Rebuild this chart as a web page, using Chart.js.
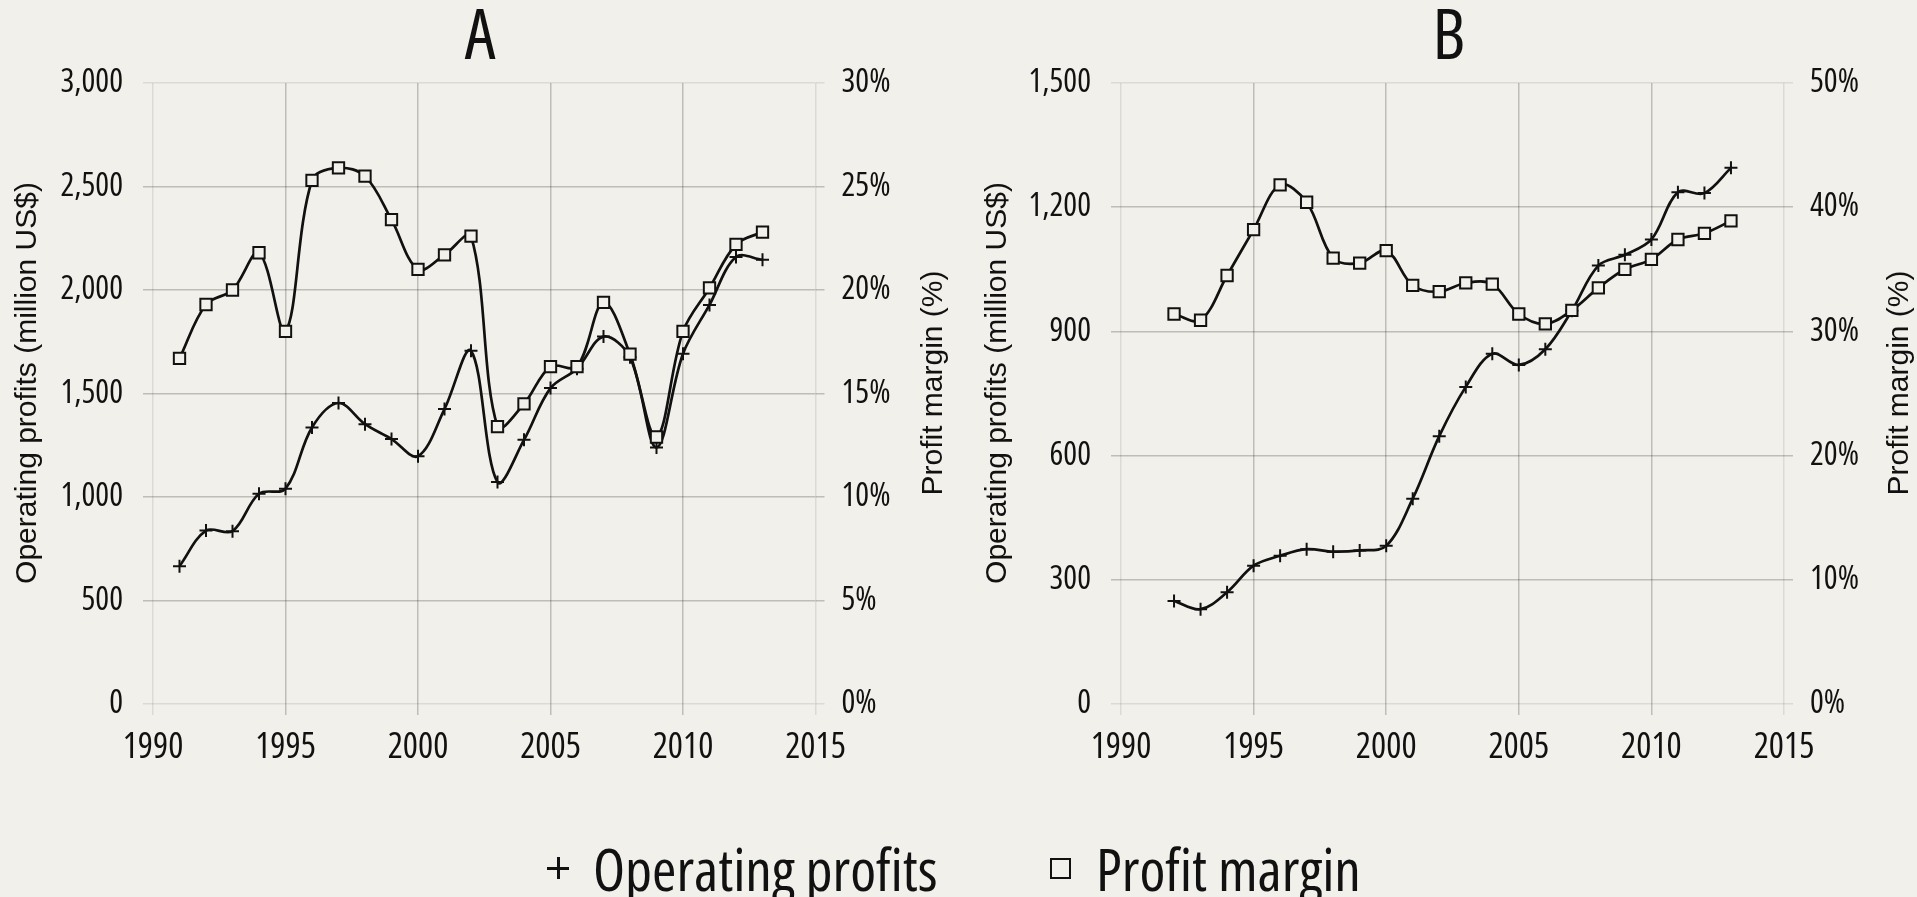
<!DOCTYPE html>
<html>
<head>
<meta charset="utf-8">
<script src="https://cdn.jsdelivr.net/npm/chart.js@4.4.1/dist/chart.umd.min.js"></script>
<style>
  html, body { margin: 0; padding: 0; background: #f2f0ea; }
  body { width: 1917px; height: 897px; position: relative; overflow: hidden; }
  canvas { position: absolute; top: 0; }
  #chartA { left: 0; }
  #chartB { left: 958px; }
  .legend { position: absolute; top: 840px; height: 56px; display: flex; align-items: center;
            color: #111; line-height: 56px; white-space: nowrap; }
  .plus { position: relative; width: 22px; height: 22px; margin-right: 24px; flex: none; }
  .plus::before, .plus::after { content: ""; position: absolute; background: #111; }
  .plus::before { left: 0; top: 9.5px; width: 22px; height: 3px; }
  .plus::after { left: 9.5px; top: 0; width: 3px; height: 22px; }
  .box { width: 17px; height: 17px; border: 2.5px solid #111; margin-right: 25px; flex: none; }
</style>
</head>
<body>
<canvas id="chartA" width="958" height="800"></canvas>
<canvas id="chartB" width="959" height="800"></canvas>
<div class="legend" style="left:547px"><span class="plus"></span><span class="lt">Operating profits</span></div>
<div class="legend" style="left:1050px"><span class="box"></span><span class="lt">Profit margin</span></div>
<script>
// ---- data ----
const yearsA = [1991, 1992, 1993, 1994, 1995, 1996, 1997, 1998, 1999, 2000, 2001, 2002,
                2003, 2004, 2005, 2006, 2007, 2008, 2009, 2010, 2011, 2012, 2013];
const profitsA = [666, 838, 835, 1016, 1040, 1336, 1454, 1352, 1280, 1197, 1425, 1706,
                  1072, 1276, 1526, 1620, 1775, 1675, 1239, 1692, 1928, 2159, 2146];
const marginA = [16.7, 19.3, 20.0, 21.8, 18.0, 25.3, 25.9, 25.5, 23.4, 21.0, 21.7, 22.6,
                 13.4, 14.5, 16.3, 16.3, 19.4, 16.9, 12.9, 18.0, 20.1, 22.2, 22.8];

const yearsB = [1992, 1993, 1994, 1995, 1996, 1997, 1998, 1999, 2000, 2001, 2002,
                2003, 2004, 2005, 2006, 2007, 2008, 2009, 2010, 2011, 2012, 2013];
const profitsB = [249, 229, 270, 334, 358, 374, 368, 371, 382, 496, 647,
                  766, 846, 819, 857, 950, 1059, 1085, 1122, 1236, 1234, 1295];
const marginB = [31.4, 30.9, 34.5, 38.2, 41.8, 40.4, 35.9, 35.5, 36.5, 33.7, 33.2,
                 33.9, 33.8, 31.4, 30.6, 31.7, 33.5, 35.0, 35.8, 37.4, 37.9, 38.9];

const xTicks = [1990, 1995, 2000, 2005, 2010, 2015];
const leftTitle = 'Operating profits (million US$)';
const rightTitle = 'Profit margin (%)';

const BG = '#f2f0ea';
const INK = '#111';
const SANS = '"Liberation Sans", Arial, sans-serif';

// the original uses a narrow grotesque; find the closest condensed face installed
function pickNarrow() {
    const ctx = document.createElement('canvas').getContext('2d');
    const sample = 'Operating profits 1990 3,000 Profit margin';
    const w = f => { ctx.font = f; return ctx.measureText(sample).width; };
    const base = w('100px "Liberation Sans"');
    const mono = w('100px monospace');
    const cands = [
        ['"Liberation Sans Narrow"', ''], ['"Arial Narrow"', ''],
        ['"DejaVu Sans Condensed"', ''], ['"Roboto Condensed"', ''],
        ['"Noto Sans"', 'condensed'], ['"Open Sans"', 'condensed'],
        ['"Noto Sans"', 'semi-condensed'], ['"Open Sans"', 'semi-condensed']
    ];
    let best = { family: SANS, weight: 'normal', r: 1 };
    for (const [fam, st] of cands) {
        if (w('100px ' + fam + ', monospace') === mono) continue;
        const plain = w('100px ' + fam);
        const cur = st ? w(st + ' 100px ' + fam) : plain;
        if (st && cur > plain * 0.97) continue;
        const r = cur / base;
        if (Math.abs(r - 0.82) < Math.abs(best.r - 0.82)) best = { family: fam, weight: st || 'normal', r };
    }
    best.k = 0.82 / best.r;
    return best;
}
const NARROW = pickNarrow();
const nf = size => ({ family: NARROW.family, weight: NARROW.weight, size: Math.round(size * NARROW.k * 10) / 10 });

document.querySelectorAll('.lt').forEach(el => {
    el.style.fontFamily = NARROW.family;
    el.style.fontStretch = NARROW.weight === 'normal' ? 'normal' : NARROW.weight;
    el.style.fontSize = (56 * NARROW.k).toFixed(1) + 'px';
});

const gridColor = c => (c.index === 0 || c.index === c.scale.ticks.length - 1)
    ? 'rgba(0,0,0,0.09)' : 'rgba(0,0,0,0.21)';

// panel letter and rotated axis titles (both reading bottom-to-top like the original)
function panelText(o) {
    return {
        id: 'panelText',
        afterDraw(chart) {
            const ctx = chart.ctx;
            const tf = nf(66);
            ctx.save();
            ctx.fillStyle = INK;
            ctx.textAlign = 'center';
            ctx.textBaseline = 'middle';
            ctx.font = tf.weight + ' ' + tf.size + 'px ' + tf.family;
            ctx.fillText(o.label, o.labelX, 39);
            ctx.font = '30px ' + SANS;
            [[o.titleL, leftTitle], [o.titleR, rightTitle]].forEach(([x, t]) => {
                ctx.save();
                ctx.translate(x, 383);
                ctx.rotate(-Math.PI / 2);
                ctx.fillText(t, 0, 0);
                ctx.restore();
            });
            ctx.restore();
        }
    };
}

function makeChart(id, years, profits, margins, o) {
    const pts = (arr) => years.map((y, i) => ({ x: y, y: arr[i] }));
    return new Chart(document.getElementById(id), {
        type: 'line',
        data: {
            datasets: [{
                label: 'Profit margin',
                data: pts(margins),
                yAxisID: 'yR',
                borderColor: INK,
                borderWidth: 2.7,
                tension: 0.35,
                pointStyle: 'rect',
                pointRadius: 8,
                pointBorderWidth: 2,
                pointBorderColor: INK,
                pointBackgroundColor: BG
            }, {
                label: 'Operating profits',
                data: pts(profits),
                yAxisID: 'yL',
                borderColor: INK,
                borderWidth: 2.7,
                tension: 0.35,
                pointStyle: 'cross',
                pointRadius: 6.5,
                pointBorderWidth: 2,
                pointBorderColor: INK
            }]
        },
        options: {
            responsive: false,
            animation: false,
            devicePixelRatio: 1,
            layout: { padding: { top: 83 } },
            plugins: {
                legend: { display: false },
                tooltip: { enabled: false },
                title: { display: false }
            },
            scales: {
                x: {
                    type: 'linear', min: 1990, max: 2015,
                    afterBuildTicks: s => { s.ticks = xTicks.map(v => ({ value: v })); },
                    afterFit: s => { s.height = 96; },
                    border: { display: false },
                    grid: { color: gridColor, lineWidth: 1.5, tickLength: 11 },
                    ticks: { color: INK, padding: 11, font: nf(34),
                             callback: v => String(v), maxRotation: 0 }
                },
                yL: {
                    position: 'left', min: 0, max: o.leftMax,
                    afterFit: s => { s.width = o.leftW; },
                    border: { display: false },
                    grid: { color: gridColor, lineWidth: 1.5, tickLength: 10 },
                    ticks: { stepSize: o.leftStep, color: INK, padding: 20, font: nf(31),
                             callback: v => v.toLocaleString('en-US') }
                },
                yR: {
                    position: 'right', min: 0, max: o.rightMax,
                    afterFit: s => { s.width = o.rightW; },
                    border: { display: false },
                    grid: { drawOnChartArea: false, color: gridColor, lineWidth: 1.5, tickLength: 9 },
                    ticks: { stepSize: o.rightStep, color: INK, padding: 17, font: nf(31),
                             callback: v => v + '%' }
                }
            }
        },
        plugins: [panelText(o)]
    });
}

makeChart('chartA', yearsA, profitsA, marginA,
    { label: 'A', labelX: 480, leftMax: 3000, leftStep: 500, rightMax: 30, rightStep: 5,
      leftW: 153, rightW: 142.5, titleL: 28, titleR: 934 });
makeChart('chartB', yearsB, profitsB, marginB,
    { label: 'B', labelX: 491, leftMax: 1500, leftStep: 300, rightMax: 50, rightStep: 10,
      leftW: 163, rightW: 133, titleL: 40, titleR: 942 });
</script>
</body>
</html>
